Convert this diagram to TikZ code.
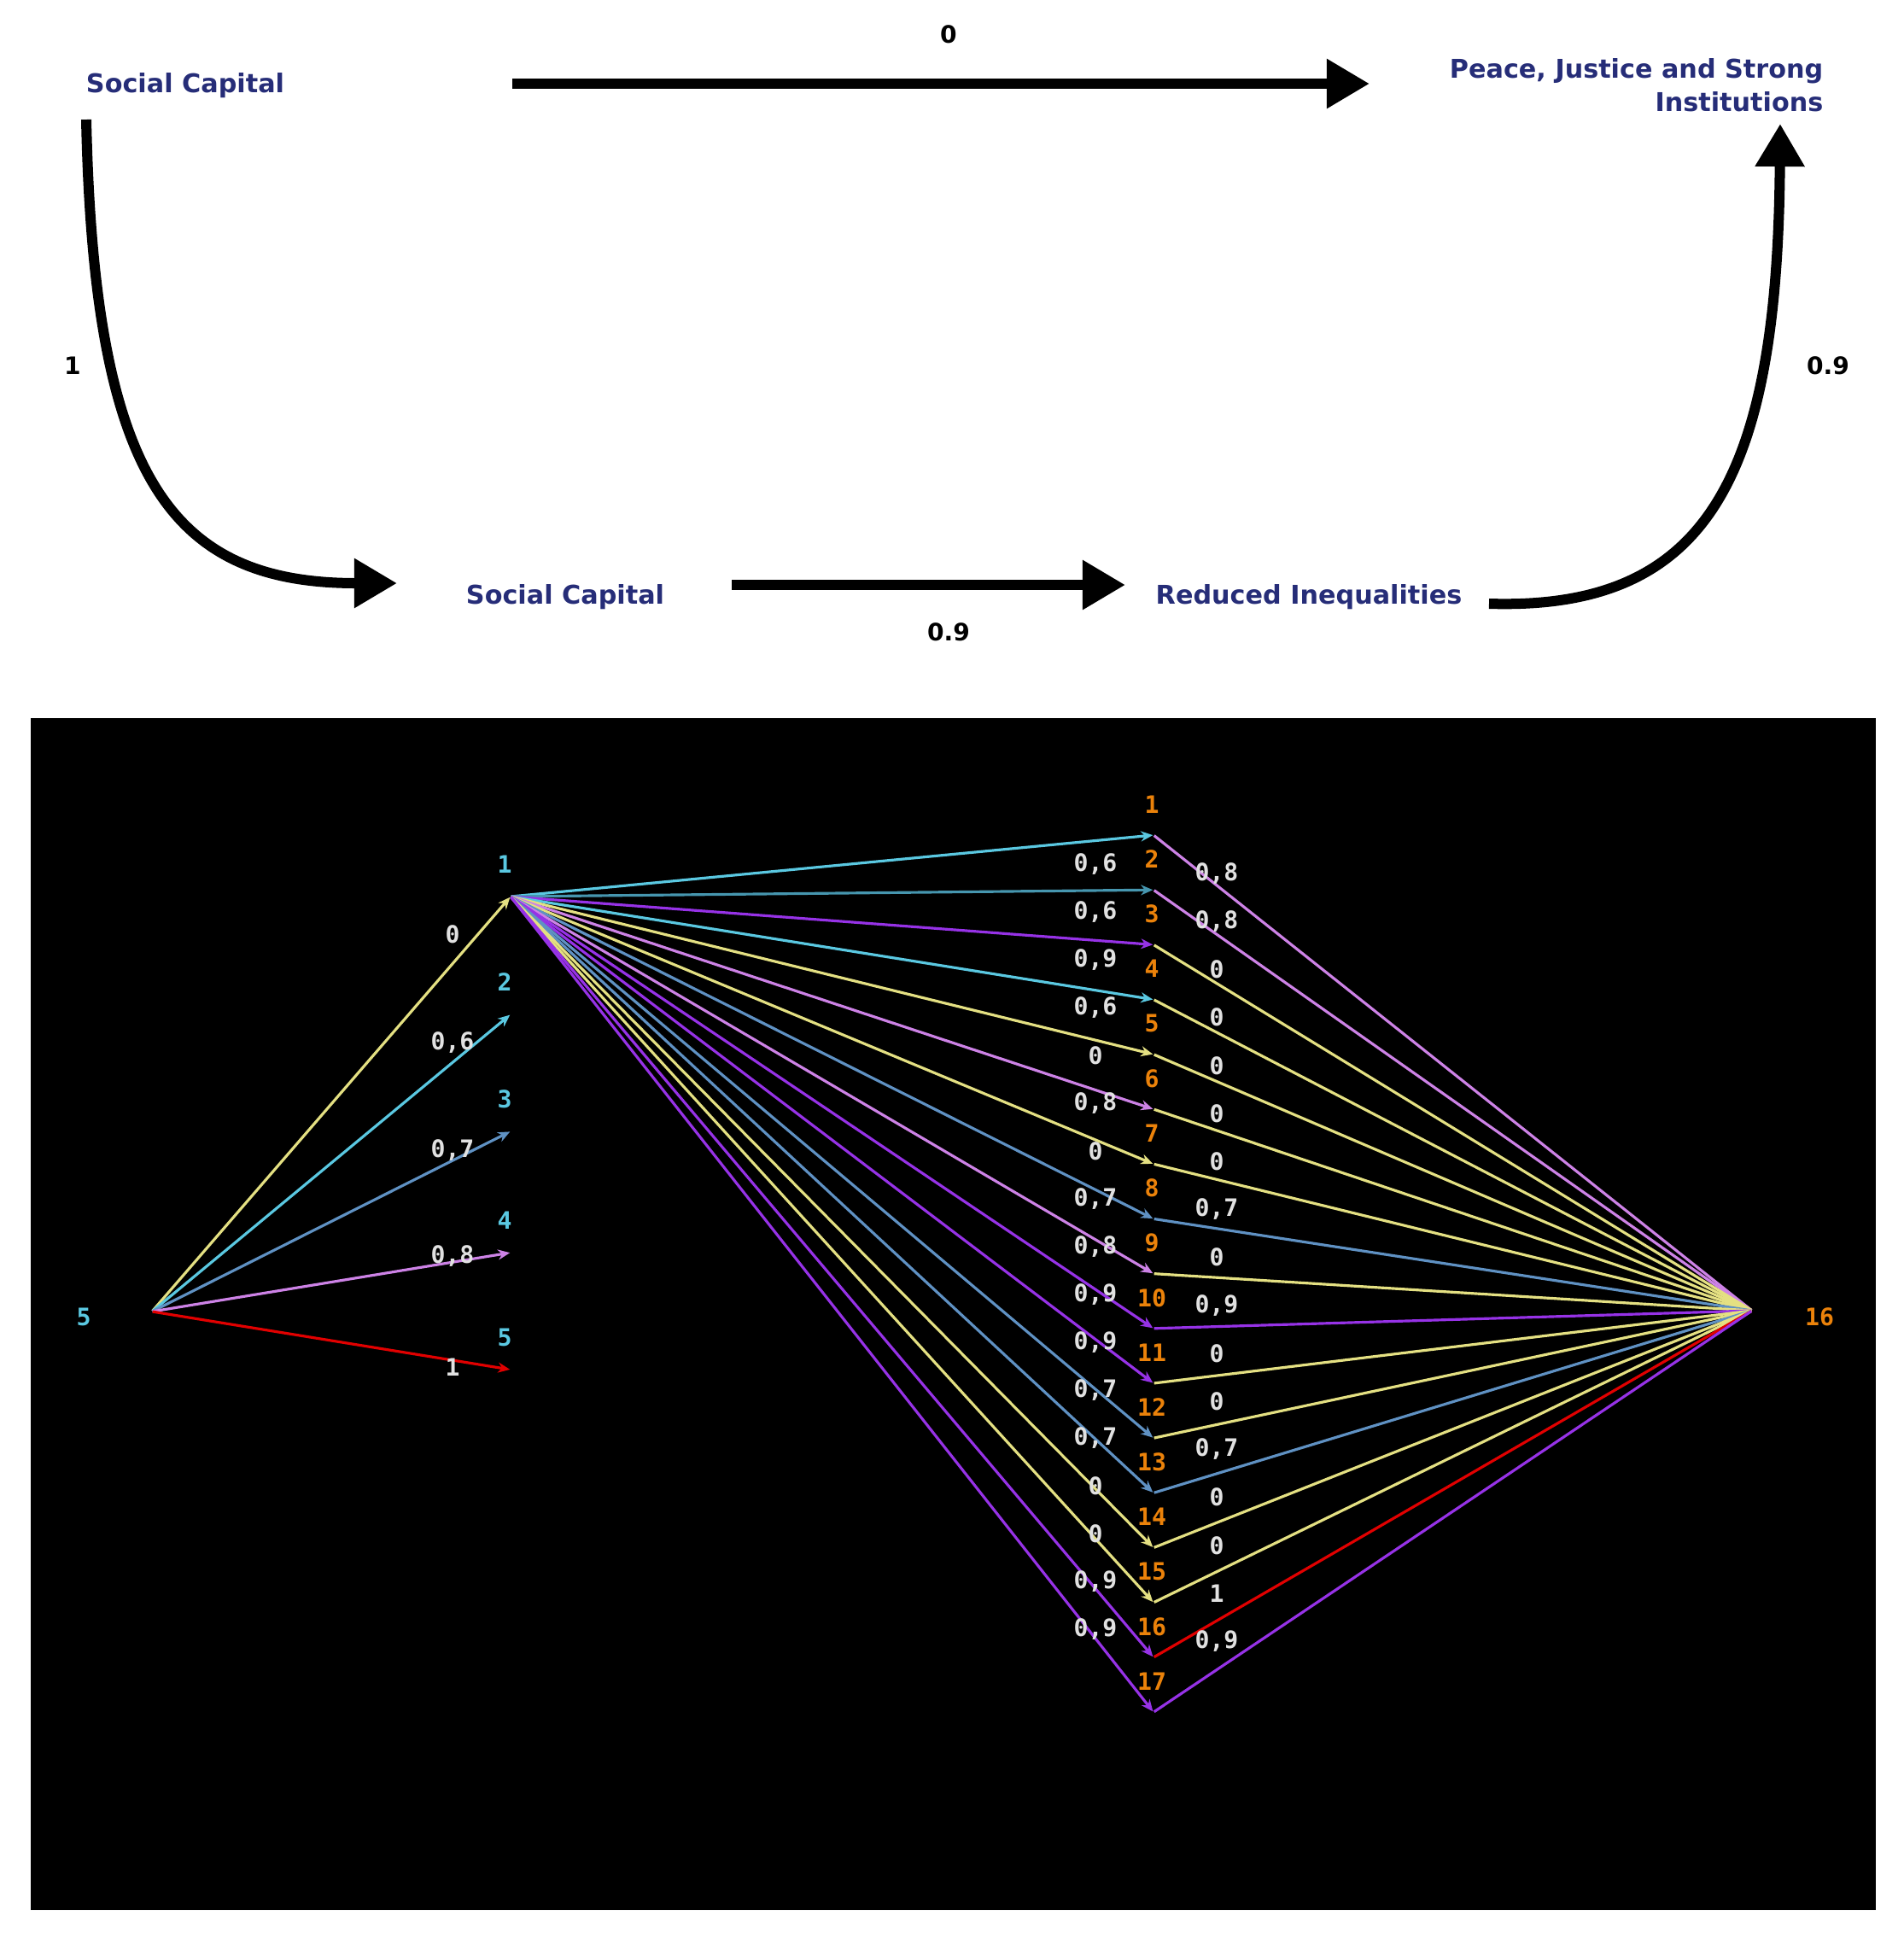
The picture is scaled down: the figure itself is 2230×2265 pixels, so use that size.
\documentclass[tikz,border=0pt]{standalone}
\usepackage{fontspec}
\setsansfont{DejaVu Sans}
\setmonofont{DejaVu Sans Mono}
\usetikzlibrary{arrows.meta}
\definecolor{navy}{RGB}{38,45,120}
\definecolor{cY}{RGB}{228,224,130}
\definecolor{cC}{RGB}{90,200,225}
\definecolor{cT}{RGB}{70,150,175}
\definecolor{cS}{RGB}{95,145,195}
\definecolor{cP}{RGB}{150,50,230}
\definecolor{cV}{RGB}{205,130,230}
\definecolor{cR}{RGB}{225,0,0}
\definecolor{cO}{RGB}{235,130,10}
\definecolor{cW}{RGB}{225,225,225}
\begin{document}
\begin{tikzpicture}[x=0.01cm,y=-0.01cm,
  concept/.style={font=\sffamily\bfseries\fontsize{8.6}{11}\selectfont,text=navy,inner sep=0pt},
  wlab/.style={font=\sffamily\bfseries\fontsize{8}{10}\selectfont,text=black,inner sep=0pt},
  bigarr/.style={line width=0.12cm,-{Triangle[length=0.5cm,width=0.55cm]}},
  edge/.style={line width=0.9pt,-{Stealth[length=0.14cm,width=0.12cm]}},
  onum/.style={font=\ttfamily\bfseries\fontsize{8}{10}\selectfont,text=cO,inner sep=0pt},
  cnum/.style={font=\ttfamily\bfseries\fontsize{8}{10}\selectfont,text=cC,inner sep=0pt},
  elab/.style={font=\ttfamily\bfseries\fontsize{8}{10}\selectfont,text=cW,inner sep=0pt},
  pt/.style={inner sep=0pt,minimum size=0pt}]
\useasboundingbox (0,0) rectangle (2230,2265);
\fill[white] (0,0) rectangle (2230,2265);
% top concept map
\node[concept] (sc1) at (217,100) {Social Capital};
\node[concept,align=right,anchor=east] (pj) at (2136,100) {Peace, Justice and Strong\\Institutions};
\node[concept] (sc2) at (662,699) {Social Capital};
\node[concept] (ri) at (1533,699) {Reduced Inequalities};
\coordinate (a1) at (600,98); \coordinate (a2) at (1604,98);
\draw[bigarr] (a1) -- (a2);
\node[wlab] at (1111,40) {0};
\coordinate (c1) at (101,140); \coordinate (c2) at (465,683);
\draw[bigarr] (c1) .. controls (110,560) and (200,683) .. (c2);
\node[wlab] at (85,428) {1};
\coordinate (b1) at (857,685); \coordinate (b2) at (1318,685);
\draw[bigarr] (b1) -- (b2);
\node[wlab] at (1111,740) {0.9};
\coordinate (d1) at (1744,707); \coordinate (d2) at (2085,145);
\draw[bigarr] (d1) .. controls (2000,715) and (2082,560) .. (d2);
\node[wlab] at (2141,428) {0.9};
% bottom panel
\fill[black] (36,841) rectangle (2197,2237);
\node[pt] (L5) at (178,1536) {};
\node[cnum] at (98,1542) {5};
\node[pt] (N1) at (598,1050) {};
\node[pt] (R16) at (2052,1535) {};
\node[onum] at (2131,1542) {16};
% left star
\foreach \i/\y/\c/\l/\ly in {1/1050/cY/{0}/1094, 2/1188/cC/{0,6}/1221, 3/1325/cS/{0,7}/1347, 4/1467/cV/{0,8}/1471, 5/1604/cR/{1}/1601}{
  \node[pt] (S\i) at (598,\y) {};
  \node[cnum] at (591,\y-38) {\i};
  \draw[edge,draw=\c] (L5) -- (S\i);
  \node[elab] at (530,\ly) {\l};
}
% middle
\foreach \i/\cl/\cr/\ll/\rl in {
 1/cC/cV/{0,6}/{0,8}, 2/cT/cV/{0,6}/{0,8}, 3/cP/cY/{0,9}/{0}, 4/cC/cY/{0,6}/{0}, 5/cY/cY/{0}/{0},
 6/cV/cY/{0,8}/{0}, 7/cY/cY/{0}/{0}, 8/cS/cS/{0,7}/{0,7}, 9/cV/cY/{0,8}/{0}, 10/cP/cP/{0,9}/{0,9},
 11/cP/cY/{0,9}/{0}, 12/cS/cY/{0,7}/{0}, 13/cS/cS/{0,7}/{0,7}, 14/cY/cY/{0}/{0}, 15/cY/cY/{0}/{0},
 16/cP/cR/{0,9}/{1}, 17/cP/cP/{0,9}/{0,9}}{
  \pgfmathsetmacro\yy{978+64.2*(\i-1)}
  \node[pt] (M\i) at (1351,\yy) {};
  \node[onum] at (1349,\yy-36) {\i};
  \draw[edge,draw=\cl] (N1) -- (M\i);
  \draw[line width=0.9pt,draw=\cr] (M\i) -- (R16);
  \pgfmathsetmacro\ya{1012+56*(\i-1)}
  \pgfmathsetmacro\yb{1023+56.2*(\i-1)}
  \node[elab] at (1283,\ya) {\ll};
  \node[elab] at (1425,\yb) {\rl};
}
\end{tikzpicture}
\end{document}
